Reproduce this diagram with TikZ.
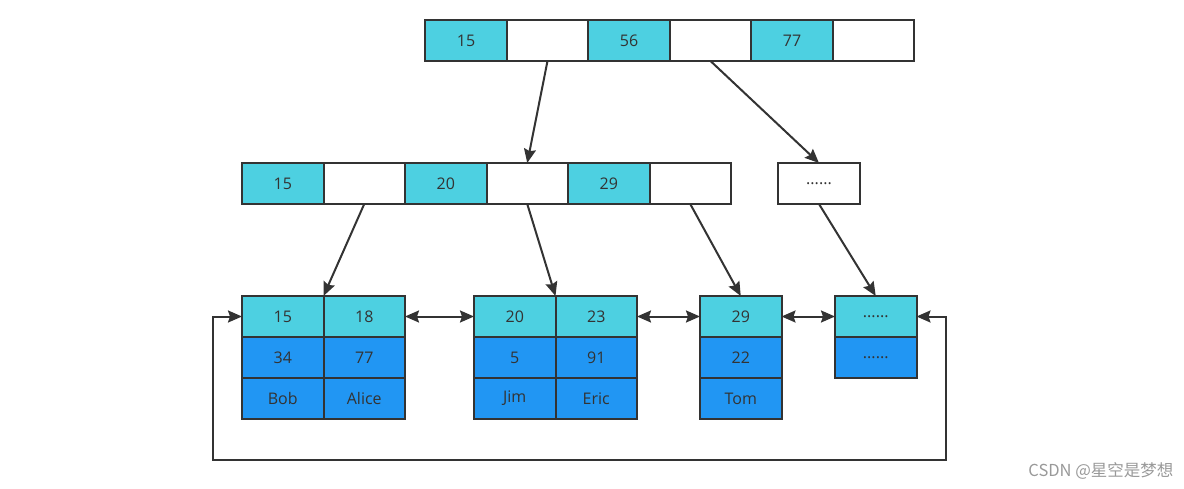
\documentclass[tikz,border=0pt]{standalone}
\usepackage{fontspec}
\setmainfont{Open Sans}
\newfontfamily\cjkfont{Noto Sans CJK SC}
\usetikzlibrary{arrows.meta, positioning}

\definecolor{keycyan}{RGB}{77,208,225}
\definecolor{rowblue}{RGB}{33,150,243}
\definecolor{linegray}{RGB}{51,51,51}

\begin{document}
\begin{tikzpicture}[x=1pt, y=-1pt]
    % --- Style Definitions ---
    \tikzset{
        cell/.style={
            draw=linegray,
            line width=2pt,
            minimum width=81.5pt,
            minimum height=41pt,
            outer sep=0pt,
            inner sep=0pt,
            text=linegray,
            font=\fontsize{16}{19}\selectfont
        },
        key cell/.style={cell, fill=keycyan},
        ptr cell/.style={cell, fill=white},
        data cell/.style={cell, fill=rowblue},
        link arrow/.style={
            draw=linegray,
            line width=2pt,
            -{Stealth[length=14pt, width=12pt, inset=2pt]}
        },
        both arrow/.style={
            link arrow,
            {Stealth[length=14pt, width=12pt, inset=2pt]}-{Stealth[length=14pt, width=12pt, inset=2pt]}
        }
    }

    \useasboundingbox (0,0) rectangle (1184,489);

    % --- 1. Root Node ---
    \node[key cell] (t1) at (466,40.5) {15};
    \node[ptr cell, right=0pt of t1] (t2) {};
    \node[key cell, right=0pt of t2] (t3) {56};
    \node[ptr cell, right=0pt of t3] (t4) {};
    \node[key cell, right=0pt of t4] (t5) {77};
    \node[ptr cell, right=0pt of t5] (t6) {};

    % --- 2. Inner Nodes ---
    \node[key cell] (m1) at (282.75,183.5) {15};
    \node[ptr cell, right=0pt of m1] (m2) {};
    \node[key cell, right=0pt of m2] (m3) {20};
    \node[ptr cell, right=0pt of m3] (m4) {};
    \node[key cell, right=0pt of m4] (m5) {29};
    \node[ptr cell, right=0pt of m5] (m6) {};

    \node[ptr cell] (dots) at (819,183.5) {......};

    % --- 3. Leaf Nodes ---
    % leaf 1
    \node[key cell] (l1a) at (282.75,316.5) {15};
    \node[key cell, right=0pt of l1a] (l1b) {18};
    \node[data cell, below=0pt of l1a] (l1c) {34};
    \node[data cell, below=0pt of l1b] (l1d) {77};
    \node[data cell, below=0pt of l1c] (l1e) {Bob};
    \node[data cell, below=0pt of l1d] (l1f) {Alice};

    % leaf 2
    \node[key cell] (l2a) at (514.75,316.5) {20};
    \node[key cell, right=0pt of l2a] (l2b) {23};
    \node[data cell, below=0pt of l2a] (l2c) {5};
    \node[data cell, below=0pt of l2b] (l2d) {91};
    \node[data cell, below=0pt of l2c] (l2e) {Jim};
    \node[data cell, below=0pt of l2d] (l2f) {Eric};

    % leaf 3
    \node[key cell] (l3a) at (740.75,316.5) {29};
    \node[data cell, below=0pt of l3a] (l3c) {22};
    \node[data cell, below=0pt of l3c] (l3e) {Tom};

    % leaf 4
    \node[key cell] (l4a) at (875.75,316.5) {......};
    \node[data cell, below=0pt of l4a] (l4c) {......};

    % --- 4. Pointers ---
    \draw[link arrow] (t2.south) -- (m4.north);
    \draw[link arrow] (t4.south) -- (dots.north);

    \draw[link arrow] (m2.south) -- (l1a.north east);
    \draw[link arrow] (m4.south) -- (l2a.north east);
    \draw[link arrow] (m6.south) -- (l3a.north);
    \draw[link arrow] (dots.south) -- (l4a.north);

    % --- 5. Leaf Links ---
    \draw[both arrow] (l1b.east) -- (l2a.west);
    \draw[both arrow] (l2b.east) -- (l3a.west);
    \draw[both arrow] (l3a.east) -- (l4a.west);

    \coordinate (loopL) at (213,460);
    \coordinate (loopR) at (946,460);
    \draw[both arrow] (l1a.west) -| (loopL) -- (loopR) |- (l4a.east);

    % --- 6. Watermark ---
    \node[anchor=east, text=black!40, font=\cjkfont\fontsize{16.5}{19}\selectfont] (mark) at (1177,471) {CSDN @星空是梦想};
\end{tikzpicture}
\end{document}
